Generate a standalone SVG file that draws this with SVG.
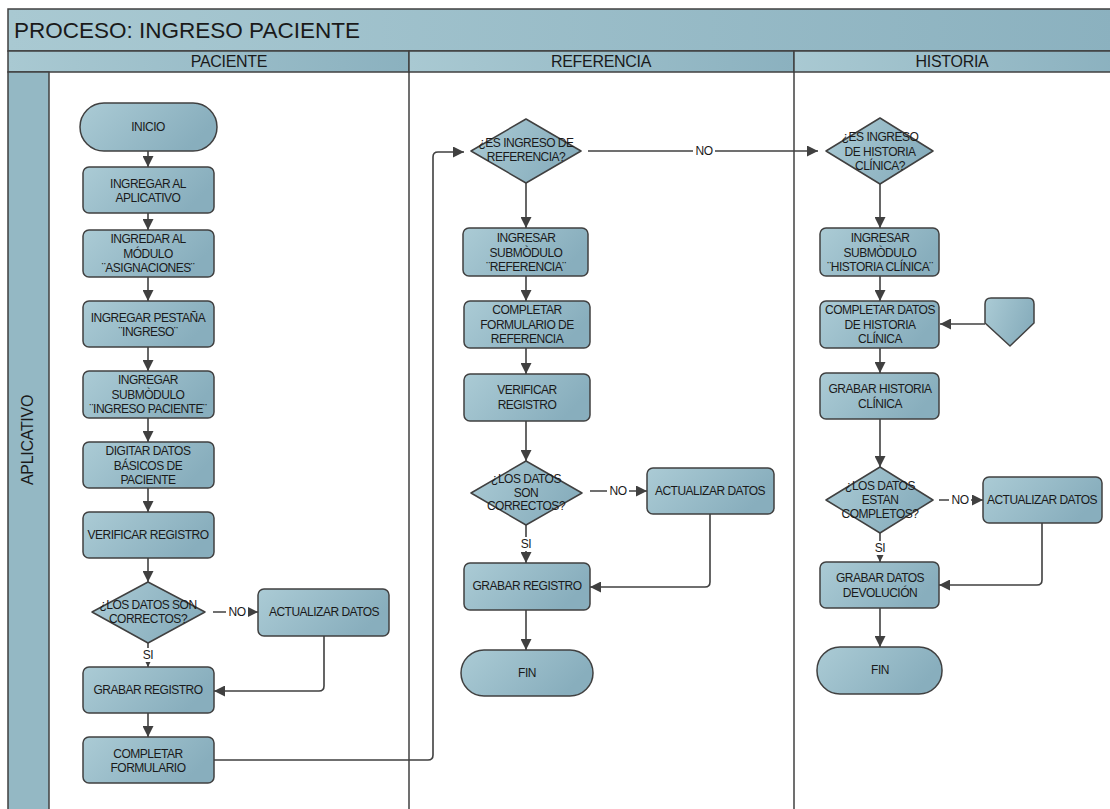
<svg xmlns="http://www.w3.org/2000/svg" width="1110" height="809" viewBox="0 0 1110 809">
<defs>
<linearGradient id="gNode" x1="0" y1="0" x2="1" y2="0.35">
<stop offset="0" stop-color="#abcbd5"/>
<stop offset="1" stop-color="#88aebd"/>
</linearGradient>
<linearGradient id="gBand" x1="0" y1="0" x2="1" y2="0">
<stop offset="0" stop-color="#a9c9d2"/>
<stop offset="1" stop-color="#8bb1bf"/>
</linearGradient>
<marker id="arr" markerUnits="userSpaceOnUse" markerWidth="11" markerHeight="11" refX="10" refY="5" orient="auto" viewBox="0 0 10 10">
<path d="M0,0 L10,5 L0,10 z" fill="#404040"/>
</marker>
<style>
.node{fill:url(#gNode);stroke:#404040;stroke-width:1.5;stroke-linejoin:round}
.band{fill:url(#gBand);stroke:#404040;stroke-width:1.5}
.t{font-family:"Liberation Sans",Arial,sans-serif;font-size:12px;fill:#1a1a1a;text-anchor:middle;letter-spacing:-0.5px}
.hdr{font-family:"Liberation Sans",Arial,sans-serif;font-size:16px;fill:#1a1a1a;text-anchor:middle;letter-spacing:-0.3px}
.title{font-family:"Liberation Sans",Arial,sans-serif;font-size:22.5px;fill:#1a1a1a}
.c{fill:none;stroke:#404040;stroke-width:1.6}
.ca{fill:none;stroke:#404040;stroke-width:1.6;marker-end:url(#arr)}
.lbl{font-family:"Liberation Sans",Arial,sans-serif;font-size:12px;fill:#1a1a1a;text-anchor:middle;letter-spacing:-0.4px}
.lane{stroke:#404040;stroke-width:1.5;fill:none}
</style>
</defs>
<rect width="1110" height="809" fill="#ffffff"/>

<g id="pool">
<rect class="band" x="8" y="9" width="1110" height="42"/>
<text class="title" x="14" y="37.5">PROCESO: INGRESO PACIENTE</text>
<rect class="band" x="8" y="51" width="401" height="21"/>
<rect class="band" x="409" y="51" width="385" height="21"/>
<rect class="band" x="794" y="51" width="324" height="21"/>
<text class="hdr" x="229" y="67">PACIENTE</text>
<text class="hdr" x="601" y="67">REFERENCIA</text>
<text class="hdr" x="952" y="67">HISTORIA</text>
<rect x="8" y="72" width="41" height="745" fill="#94b8c4" stroke="#404040" stroke-width="1.5"/>
<text class="hdr" transform="translate(33,440) rotate(-90)" x="0" y="0" style="font-size:16px">APLICATIVO</text>
<line class="lane" x1="409" y1="72" x2="409" y2="809"/>
<line class="lane" x1="794" y1="72" x2="794" y2="809"/>
</g>

<g id="connectors">
<line class="ca" x1="148" y1="151" x2="148" y2="167"/>
<line class="ca" x1="148" y1="213" x2="148" y2="230"/>
<line class="ca" x1="148" y1="277" x2="148" y2="301"/>
<line class="ca" x1="148" y1="347" x2="148" y2="371"/>
<line class="ca" x1="148" y1="418" x2="148" y2="442"/>
<line class="ca" x1="148" y1="488" x2="148" y2="512"/>
<line class="ca" x1="148" y1="558" x2="148" y2="582"/>
<line class="ca" x1="213" y1="612" x2="258" y2="612"/>
<rect x="226" y="605" width="22" height="14" fill="#ffffff"/>
<text class="lbl" x="237" y="616">NO</text>
<line class="ca" x1="148" y1="643" x2="148" y2="667"/>
<rect x="140" y="648" width="16" height="14" fill="#ffffff"/>
<text class="lbl" x="148" y="659">SI</text>
<path class="ca" d="M324,636 V686 Q324,691 319,691 H214"/>
<line class="ca" x1="148" y1="713" x2="148" y2="737"/>
<path class="ca" d="M214,760 H428 Q433,760 433,755 V157 Q433,152 438,152 H464"/>

<line class="ca" x1="526" y1="183" x2="526" y2="228"/>
<line class="ca" x1="526" y1="276" x2="526" y2="301"/>
<line class="ca" x1="526" y1="348" x2="526" y2="374"/>
<line class="ca" x1="526" y1="421" x2="526" y2="461"/>
<line class="ca" x1="588" y1="151" x2="818" y2="151"/>
<rect x="693" y="144" width="22" height="14" fill="#ffffff"/>
<text class="lbl" x="704" y="155">NO</text>
<line class="ca" x1="590" y1="491" x2="647" y2="491"/>
<rect x="607" y="484" width="22" height="14" fill="#ffffff"/>
<text class="lbl" x="618" y="495">NO</text>
<line class="ca" x1="526" y1="525" x2="526" y2="563"/>
<rect x="518" y="537" width="16" height="14" fill="#ffffff"/>
<text class="lbl" x="526" y="548">SI</text>
<path class="ca" d="M710,514 V582 Q710,587 705,587 H590"/>
<line class="ca" x1="526" y1="610" x2="526" y2="650"/>

<line class="ca" x1="880" y1="184" x2="880" y2="228"/>
<line class="ca" x1="880" y1="276" x2="880" y2="301"/>
<line class="ca" x1="880" y1="348" x2="880" y2="373"/>
<line class="ca" x1="880" y1="419" x2="880" y2="467"/>
<line class="ca" x1="939" y1="500" x2="983" y2="500"/>
<rect x="949" y="493" width="22" height="14" fill="#ffffff"/>
<text class="lbl" x="960" y="504">NO</text>
<line class="ca" x1="880" y1="533" x2="880" y2="562"/>
<rect x="872" y="541" width="16" height="14" fill="#ffffff"/>
<text class="lbl" x="880" y="552">SI</text>
<path class="ca" d="M1042,523 V580 Q1042,585 1037,585 H939"/>
<line class="ca" x1="880" y1="608" x2="880" y2="647"/>
<line class="ca" x1="985" y1="324" x2="940" y2="324"/>
</g>

<g id="n-inicio"><rect class="node" x="80" y="103" width="137" height="48" rx="24"/><text class="t" x="148" y="131">INICIO</text></g>
<g id="n-p1"><rect class="node" x="83" y="167" width="131" height="46" rx="6"/><text class="t" x="148" y="188">INGREGAR AL<tspan x="148" dy="14">APLICATIVO</tspan></text></g>
<g id="n-p2"><rect class="node" x="83" y="230" width="131" height="47" rx="6"/><text class="t" x="148" y="243">INGREDAR AL<tspan x="148" dy="14.5">MÓDULO</tspan><tspan x="148" dy="14.5">¨ASIGNACIONES¨</tspan></text></g>
<g id="n-p3"><rect class="node" x="83" y="301" width="131" height="46" rx="6"/><text class="t" x="148" y="322">INGREGAR PESTAÑA<tspan x="148" dy="14">¨INGRESO¨</tspan></text></g>
<g id="n-p4"><rect class="node" x="83" y="371" width="131" height="47" rx="6"/><text class="t" x="148" y="384">INGREGAR<tspan x="148" dy="14.5">SUBMÒDULO</tspan><tspan x="148" dy="14.5">¨INGRESO PACIENTE¨</tspan></text></g>
<g id="n-p5"><rect class="node" x="83" y="442" width="131" height="46" rx="6"/><text class="t" x="148" y="455">DIGITAR DATOS<tspan x="148" dy="14.5">BÁSICOS DE</tspan><tspan x="148" dy="14.5">PACIENTE</tspan></text></g>
<g id="n-p6"><rect class="node" x="83" y="512" width="131" height="46" rx="6"/><text class="t" x="148" y="539">VERIFICAR REGISTRO</text></g>
<g id="n-p7"><path class="node" d="M148,582 L205,612 L148,643 L92,612 Z"/><text class="t" x="148" y="609">¿LOS DATOS SON<tspan x="148" dy="14">CORRECTOS?</tspan></text></g>
<g id="n-p8"><rect class="node" x="258" y="589" width="131" height="47" rx="6"/><text class="t" x="324" y="616">ACTUALIZAR DATOS</text></g>
<g id="n-p9"><rect class="node" x="83" y="667" width="131" height="46" rx="6"/><text class="t" x="148" y="694">GRABAR REGISTRO</text></g>
<g id="n-p10"><rect class="node" x="83" y="737" width="131" height="46" rx="6"/><text class="t" x="148" y="758">COMPLETAR<tspan x="148" dy="14">FORMULARIO</tspan></text></g>

<g id="n-r1"><path class="node" d="M526,119 L581,151 L526,183 L471,151 Z"/><text class="t" x="526" y="147">¿ES INGRESO DE<tspan x="526" dy="14">REFERENCIA?</tspan></text></g>
<g id="n-r2"><rect class="node" x="463" y="228" width="125" height="48" rx="6"/><text class="t" x="526" y="242">INGRESAR<tspan x="526" dy="14.5">SUBMÒDULO</tspan><tspan x="526" dy="14.5">¨REFERENCIA¨</tspan></text></g>
<g id="n-r3"><rect class="node" x="464" y="301" width="126" height="47" rx="6"/><text class="t" x="527" y="314">COMPLETAR<tspan x="527" dy="14.5">FORMULARIO DE</tspan><tspan x="527" dy="14.5">REFERENCIA</tspan></text></g>
<g id="n-r4"><rect class="node" x="464" y="374" width="126" height="47" rx="6"/><text class="t" x="527" y="394">VERIFICAR<tspan x="527" dy="14.5">REGISTRO</tspan></text></g>
<g id="n-r5"><path class="node" d="M526,461 L582,493 L526,525 L471,493 Z"/><text class="t" x="526" y="483">¿LOS DATOS<tspan x="526" dy="13.5">SON</tspan><tspan x="526" dy="13.5">CORRECTOS?</tspan></text></g>
<g id="n-r6"><rect class="node" x="647" y="468" width="127" height="46" rx="6"/><text class="t" x="710" y="495">ACTUALIZAR DATOS</text></g>
<g id="n-r7"><rect class="node" x="464" y="563" width="126" height="47" rx="6"/><text class="t" x="527" y="590">GRABAR REGISTRO</text></g>
<g id="n-r8"><rect class="node" x="461" y="650" width="132" height="46" rx="23"/><text class="t" x="527" y="677">FIN</text></g>

<g id="n-h1"><path class="node" d="M880,118 L933,151 L880,184 L826,151 Z"/><text class="t" x="880" y="141">¿ES INGRESO<tspan x="880" dy="14.5">DE HISTORIA</tspan><tspan x="880" dy="14.5">CLÍNICA?</tspan></text></g>
<g id="n-h2"><rect class="node" x="820" y="228" width="119" height="48" rx="6"/><text class="t" x="880" y="242">INGRESAR<tspan x="880" dy="14.5">SUBMÒDULO</tspan><tspan x="880" dy="14.5">¨HISTORIA CLÍNICA¨</tspan></text></g>
<g id="n-h3"><rect class="node" x="820" y="301" width="119" height="47" rx="6"/><text class="t" x="880" y="314">COMPLETAR DATOS<tspan x="880" dy="14.5">DE HISTORIA</tspan><tspan x="880" dy="14.5">CLÍNICA</tspan></text></g>
<g id="n-h4"><path class="node" d="M985,304 Q985,298 991,298 H1028 Q1034,298 1034,304 V323 L1010,346 L985,323 Z"/></g>
<g id="n-h5"><rect class="node" x="820" y="373" width="119" height="46" rx="6"/><text class="t" x="880" y="393">GRABAR HISTORIA<tspan x="880" dy="14.5">CLÍNICA</tspan></text></g>
<g id="n-h6"><path class="node" d="M880,467 L933,500 L880,533 L826,500 Z"/><text class="t" x="880" y="490">¿LOS DATOS<tspan x="880" dy="14">ESTAN</tspan><tspan x="880" dy="14">COMPLETOS?</tspan></text></g>
<g id="n-h7"><rect class="node" x="983" y="477" width="119" height="46" rx="6"/><text class="t" x="1042" y="504">ACTUALIZAR DATOS</text></g>
<g id="n-h8"><rect class="node" x="820" y="562" width="119" height="46" rx="6"/><text class="t" x="880" y="582">GRABAR DATOS<tspan x="880" dy="14.5">DEVOLUCIÓN</tspan></text></g>
<g id="n-h9"><rect class="node" x="817" y="647" width="125" height="47" rx="23"/><text class="t" x="880" y="674">FIN</text></g>
</svg>
